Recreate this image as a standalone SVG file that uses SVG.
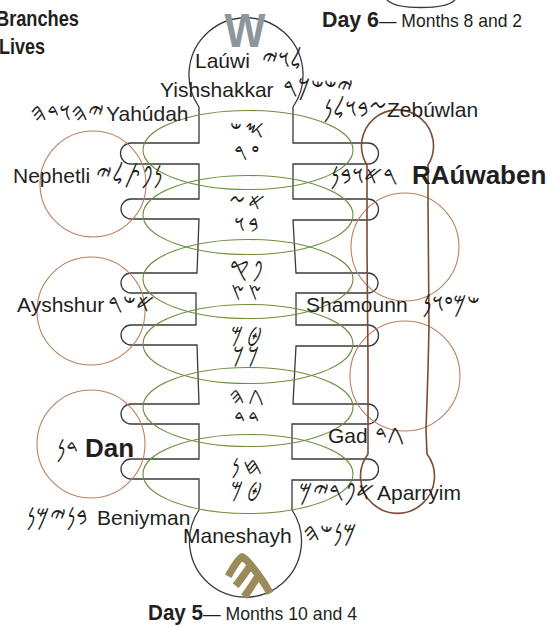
<svg xmlns="http://www.w3.org/2000/svg" width="554" height="627" viewBox="0 0 554 627">
<style>
.ln{fill:none;stroke:#3a3a3a;stroke-width:1.3}
.gr{fill:none;stroke:#6e8f3c;stroke-width:1.1}
.br{fill:none;stroke:#b88262;stroke-width:1.1}
.cap{fill:none;stroke:#7d4b34;stroke-width:1.6}
.t{font-family:"Liberation Sans",Arial,sans-serif;font-size:21px;fill:#231f20}
.b{font-family:"Liberation Sans",Arial,sans-serif;font-weight:bold;fill:#231f20}
.p{font-family:"DejaVu Sans","Noto Sans",sans-serif;font-size:25px;fill:#231f20;text-anchor:middle}
.c{font-family:"DejaVu Sans","Noto Sans",sans-serif;font-size:23px;fill:#231f20;text-anchor:middle;letter-spacing:3px}
</style>
<g id="connectors">
<path class="ln" d="M199,107 A57,57 0 1 1 293,107 L293,143 L368,143 A10.5,10.5 0 0 1 368,164 L293,164 L293,199 L368,199 A10.5,10.5 0 0 1 368,220 L293,220 L296,273 L368,273 A10,10 0 0 1 368,293 L296,293 L296,325 L368,325 A10.5,10.5 0 0 1 368,346 L296,346 L293,404 L368,404 A10,10 0 0 1 368,424 L292,424 L292,459 L368,459 A10.5,10.5 0 0 1 368,480 L292,480 L292,510 A56,56 0 1 1 199,510 L199,479 L131,479 A10,10 0 0 1 131,459 L199,459 L199,424 L131,424 A10,10 0 0 1 131,404 L199,404 L197,345 L131,345 A10,10 0 0 1 131,325 L196,325 L196,293 L131,293 A10,10 0 0 1 131,273 L197,273 L199,219 L131,219 A10,10 0 0 1 131,199 L199,199 L199,164 L131,164 A10.5,10.5 0 0 1 131,143 L199,143 Z"/>
<path class="ln" d="M387,0 C393,6 405,7.5 421,7.5 C437,7.5 449,6 455,0"/>
<ellipse class="gr" cx="248" cy="150" rx="105" ry="39.5"/>
<ellipse class="gr" cx="248" cy="215" rx="105" ry="39.5"/>
<ellipse class="gr" cx="248" cy="279" rx="105" ry="39.5"/>
<ellipse class="gr" cx="248" cy="344" rx="105" ry="39.5"/>
<ellipse class="gr" cx="248" cy="407" rx="105" ry="39.5"/>
<ellipse class="gr" cx="248" cy="474" rx="105" ry="39.5"/>
<circle class="br" cx="93" cy="184" r="53"/>
<circle class="br" cx="91" cy="311" r="54"/>
<circle class="br" cx="91" cy="444" r="54"/>
<circle class="br" cx="405" cy="247" r="54"/>
<circle class="br" cx="405" cy="376" r="55"/>
<path class="cap" d="M367,165 A36,36 0 1 1 428,165 L428,200 L429,327 L428,370 L426,430 L427,454 A37,37 0 1 1 368,454 L368,360 L367,250 L367,165 Z"/>
</g>
<g id="title-top">
<text class="b" x="-4" y="26" font-size="22" textLength="83" lengthAdjust="spacingAndGlyphs">Branches</text>
<text class="b" x="-1" y="54" font-size="22" textLength="46" lengthAdjust="spacingAndGlyphs">Lives</text>
</g>
<g id="day6">
<text class="b" x="322" y="27" font-size="22" textLength="57" lengthAdjust="spacingAndGlyphs">Day 6</text>
<text class="t" x="379" y="27" style="font-size:19px" textLength="143" lengthAdjust="spacingAndGlyphs">— Months 8 and 2</text>
</g>
<g id="day5">
<text class="b" x="148" y="620" font-size="22" textLength="55" lengthAdjust="spacingAndGlyphs">Day 5</text>
<text class="t" x="203" y="620" style="font-size:19px" textLength="154" lengthAdjust="spacingAndGlyphs">— Months 10 and 4</text>
</g>
<g id="marks">
<text x="245" y="47" font-family="Liberation Sans,Arial,sans-serif" font-weight="bold" font-size="48" fill="#8e969b" text-anchor="middle" textLength="41" lengthAdjust="spacingAndGlyphs">W</text>
<text x="0" y="0" font-family="DejaVu Sans,sans-serif" font-size="72" fill="#9b8a5a" stroke="#9b8a5a" stroke-width="3.5" text-anchor="middle" transform="translate(251,597) rotate(-8)">𐤄</text>
</g>
<g id="laúwi"><text class="t" x="195" y="68">Laúwi</text><text class="p" x="282" y="68">𐤋𐤅𐤉</text></g>
<g id="yishshakkar"><text class="t" x="160" y="97">Yishshakkar</text><text class="p" x="318" y="96">𐤉𐤔𐤔𐤊𐤓</text></g>
<g id="yahudah"><text class="p" x="67" y="121">𐤉𐤄𐤅𐤃𐤄</text><text class="t" x="106" y="121">Yahúdah</text></g>
<g id="zebuwlan"><text class="p" x="355" y="117">𐤆𐤁𐤅𐤋𐤍</text><text class="t" x="387" y="117">Zebúwlan</text></g>
<g id="nephetli"><text class="t" x="13" y="183">Nephetli</text><text class="p" x="129" y="183">𐤍𐤐𐤕𐤋𐤉</text></g>
<g id="rauwaben"><text class="p" x="364" y="184">𐤓𐤀𐤅𐤁𐤍</text><text class="b" x="412" y="184" font-size="26">RAúwaben</text></g>
<g id="ayshshur"><text class="t" x="17" y="312">Ayshshur</text><text class="p" x="131" y="312">𐤀𐤔𐤓</text></g>
<g id="shamounn"><text class="t" x="306" y="312">Shamounn</text><text class="p" x="451" y="312">𐤔𐤌𐤏𐤅𐤍</text></g>
<g id="dan"><text class="p" x="67" y="457">𐤃𐤍</text><text class="b" x="85" y="457" font-size="26">Dan</text></g>
<g id="gad"><text class="t" x="328" y="443">Gad</text><text class="p" x="389" y="443">𐤂𐤃</text></g>
<g id="aparryim"><text class="p" x="337" y="500">𐤀𐤐𐤓𐤉𐤌</text><text class="t" x="377" y="500">Aparryim</text></g>
<g id="beniyman"><text class="p" x="57" y="525">𐤁𐤍𐤉𐤌𐤍</text><text class="t" x="97" y="525">Beniyman</text></g>
<g id="maneshayh"><text class="t" x="183" y="543">Maneshayh</text><text class="p" x="330" y="541">𐤌𐤍𐤔𐤄</text></g>
<g id="cells">
<text class="c"><tspan x="248" y="137">𐤎𐤔</tspan><tspan x="248" y="160">𐤏𐤓</tspan></text>
<text class="c"><tspan x="248" y="210">𐤀𐤆</tspan><tspan x="248" y="232">𐤁𐤅</tspan></text>
<text class="c"><tspan x="248" y="277">𐤐𐤒</tspan><tspan x="248" y="300">𐤑𐤑</tspan></text>
<text class="c"><tspan x="248" y="342">𐤈𐤌</tspan><tspan x="248" y="363">𐤊𐤊</tspan></text>
<text class="c"><tspan x="248" y="404">𐤂𐤄</tspan><tspan x="248" y="426">𐤃𐤃</tspan></text>
<text class="c"><tspan x="248" y="474">𐤇𐤍</tspan><tspan x="248" y="497">𐤈𐤌</tspan></text>
</g>
</svg>
